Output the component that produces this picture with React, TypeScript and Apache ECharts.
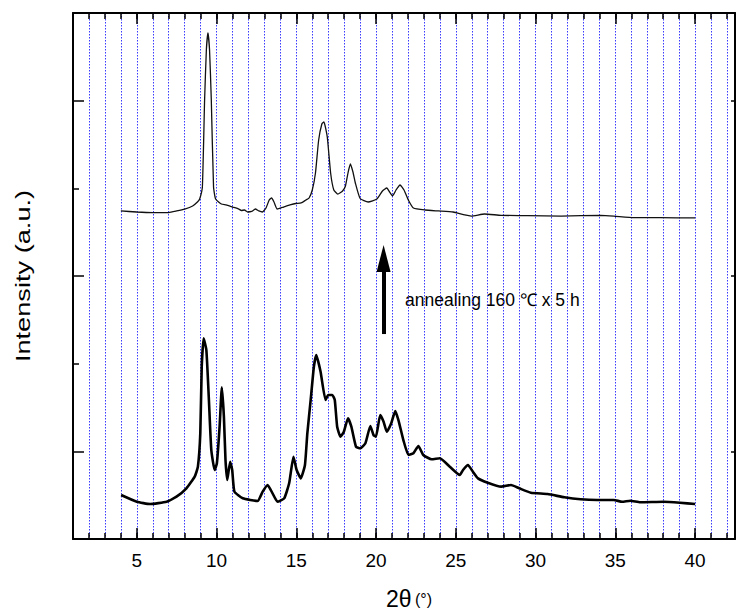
import React, { useEffect, useRef } from "react";
import * as echarts from "echarts";

// 2θ positions (degrees) and intensities (a.u.) of the as-prepared sample (lower curve)
const lowerX = [4.02, 5.0, 5.83, 6.87, 7.49, 8.11, 8.63, 8.83, 8.98, 9.07, 9.19, 9.36, 9.52, 9.67, 9.88, 10.02, 10.19, 10.33, 10.46, 10.56, 10.67, 10.85, 10.98, 11.12, 11.64, 12.57, 12.89, 13.2, 13.51, 13.82, 14.24, 14.55, 14.82, 15.02, 15.28, 15.54, 15.69, 15.9, 16.1, 16.25, 16.52, 16.83, 17.0, 17.25, 17.41, 17.56, 17.77, 17.98, 18.24, 18.45, 18.74, 19.01, 19.33, 19.64, 19.84, 19.99, 20.26, 20.47, 20.67, 20.95, 21.2, 21.4, 21.71, 22.03, 22.34, 22.65, 22.96, 23.48, 24.0, 24.62, 25.25, 25.45, 25.76, 26.07, 26.39, 27.0, 27.84, 28.46, 28.98, 29.7, 30.75, 31.8, 32.82, 33.86, 34.9, 35.42, 35.94, 36.56, 38.02, 39.05, 40.0];
const lowerY = [502, 425, 399, 425, 483, 578, 711, 825, 1206, 1965, 2289, 2156, 1586, 1015, 787, 864, 1281, 1730, 1395, 901, 673, 882, 787, 540, 464, 433, 540, 616, 521, 425, 464, 635, 939, 787, 692, 844, 1206, 1586, 1965, 2099, 1908, 1586, 1643, 1643, 1586, 1281, 1167, 1224, 1377, 1281, 1053, 1035, 1092, 1289, 1186, 1167, 1414, 1338, 1224, 1320, 1460, 1357, 1129, 958, 978, 1061, 958, 909, 921, 825, 730, 787, 844, 768, 692, 642, 597, 616, 578, 528, 513, 476, 453, 445, 445, 425, 437, 419, 425, 414, 399];

// annealed sample (upper curve)
const upperX = [4.0, 5.0, 6.0, 7.0, 7.5, 8.0, 8.5, 8.8, 8.94, 9.11, 9.25, 9.36, 9.46, 9.56, 9.67, 9.81, 9.94, 10.3, 10.6, 11.0, 11.4, 11.55, 11.75, 11.95, 12.2, 12.43, 12.65, 12.87, 13.1, 13.3, 13.45, 13.6, 13.8, 14.2, 14.6, 14.96, 15.3, 15.6, 15.8, 16.0, 16.2, 16.4, 16.6, 16.73, 16.94, 17.15, 17.35, 17.6, 17.9, 18.08, 18.25, 18.39, 18.55, 18.7, 19.0, 19.5, 20.05, 20.4, 20.67, 20.85, 21.03, 21.25, 21.5, 21.75, 22.02, 22.34, 23.06, 23.9, 24.83, 25.56, 25.97, 26.8, 27.84, 29.5, 31.6, 34.07, 34.9, 36.15, 37.8, 40.0];
const upperY = [3742, 3730, 3724, 3724, 3742, 3764, 3799, 3844, 3878, 4015, 5008, 5578, 5772, 5578, 5008, 4015, 3878, 3821, 3810, 3787, 3764, 3747, 3753, 3730, 3736, 3764, 3742, 3730, 3776, 3867, 3890, 3844, 3764, 3787, 3810, 3827, 3833, 3867, 3890, 3981, 4175, 4551, 4734, 4757, 4586, 4175, 3981, 3935, 3970, 4027, 4186, 4278, 4186, 4061, 3884, 3844, 3878, 3970, 4004, 3958, 3913, 3981, 4038, 3981, 3867, 3776, 3753, 3742, 3730, 3696, 3684, 3707, 3692, 3688, 3684, 3692, 3684, 3665, 3665, 3662];

const xMajorTicks = [5, 10, 15, 20, 25, 30, 35, 40];
const yMajorTicks = [1000, 3000, 5000];
const yMinorTicks = [2000, 4000];

// annotation arrow (2θ, intensity)
const arrowX = 20.47;
const arrowFrom = 2338;
const arrowTo = 3200;
const annotationText = "annealing 160 ℃ x 5 h";

const FONT = '"Liberation Sans", Arial, Helvetica, sans-serif';

export default function App() {
  const ref = useRef<HTMLDivElement>(null);

  useEffect(() => {
    document.body.style.margin = "0";
    const chart = echarts.init(ref.current!, null, { renderer: "svg" });
    const xRange = { min: 1, max: 42.5 };
    const yRange = { min: 0, max: 6000 };
    const black = { color: "#000", width: 1.5 };

    chart.setOption({
      animation: false,
      backgroundColor: "#fff",
      grid: { left: 73, top: 13, width: 666, bottom: 72, containLabel: false },
      xAxis: [
        {
          type: "value", position: "bottom", ...xRange, interval: 1,
          axisLine: { show: true, onZero: false, lineStyle: { color: "#000", width: 2 } },
          axisTick: { show: true, inside: true, length: 6, interval: 0, lineStyle: black },
          axisLabel: {
            show: true, interval: 0, margin: 12, fontSize: 19, color: "#000", fontFamily: FONT,
            formatter: (v: number) => (xMajorTicks.includes(v) ? String(v) : ""),
          },
          splitLine: { show: true, interval: 0, lineStyle: { color: "#3a3aff", width: 1, type: [1.5, 1.5] } },
        },
        {
          type: "value", position: "bottom", ...xRange,
          axisLine: { show: false, onZero: false },
          axisTick: { show: true, inside: true, length: 11, customValues: xMajorTicks, lineStyle: black },
          axisLabel: { show: false },
          splitLine: { show: false },
        },
        {
          type: "value", position: "top", ...xRange, interval: 1,
          axisLine: { show: true, onZero: false, lineStyle: { color: "#000", width: 2 } },
          axisTick: { show: true, inside: true, length: 6, interval: 0, lineStyle: black },
          axisLabel: { show: false },
          splitLine: { show: false },
        },
        {
          type: "value", position: "top", ...xRange,
          axisLine: { show: false, onZero: false },
          axisTick: { show: true, inside: true, length: 11, customValues: xMajorTicks, lineStyle: black },
          axisLabel: { show: false },
          splitLine: { show: false },
        },
      ],
      yAxis: [
        {
          type: "value", position: "left", ...yRange,
          axisLine: { show: true, onZero: false, lineStyle: { color: "#000", width: 2 } },
          axisTick: { show: true, inside: true, length: 11, customValues: yMajorTicks, lineStyle: black },
          axisLabel: { show: false },
          splitLine: { show: false },
        },
        {
          type: "value", position: "left", ...yRange,
          axisLine: { show: false, onZero: false },
          axisTick: { show: true, inside: true, length: 6, customValues: yMinorTicks, lineStyle: black },
          axisLabel: { show: false },
          splitLine: { show: false },
        },
        {
          type: "value", position: "right", ...yRange,
          axisLine: { show: true, onZero: false, lineStyle: { color: "#000", width: 2 } },
          axisTick: { show: true, inside: true, length: 4, customValues: yMajorTicks, lineStyle: black },
          axisLabel: { show: false },
          splitLine: { show: false },
        },
      ],
      series: [
        {
          name: "as-prepared", type: "line", xAxisIndex: 0, yAxisIndex: 0,
          data: lowerX.map((x, i) => [x, lowerY[i]]),
          showSymbol: false, symbol: "none", smooth: 0.15,
          lineStyle: { color: "#000", width: 2.6 },
          z: 3,
          markLine: {
            silent: true,
            symbol: ["none", "triangle"],
            label: { show: false },
            lineStyle: { color: "#000", width: 4, type: "solid" },
            emphasis: { disabled: true },
            data: [[
              { coord: [arrowX, arrowFrom], symbol: "none" },
              { coord: [arrowX, arrowTo], symbol: "triangle", symbolSize: [14, 27] },
            ]],
          },
        },
        {
          name: "annealed", type: "line", xAxisIndex: 0, yAxisIndex: 0,
          data: upperX.map((x, i) => [x, upperY[i]]),
          showSymbol: false, symbol: "none", smooth: 0.15,
          lineStyle: { color: "#111", width: 1.3 },
          z: 3,
        },
      ],
      graphic: [
        {
          type: "text", x: 23, y: 276, rotation: Math.PI / 2, scaleX: 1.36,
          style: { text: "Intensity (a.u.)", fontSize: 20, fontFamily: FONT, fill: "#000", align: "center", verticalAlign: "middle" },
        },
        {
          type: "text", x: 409, y: 599,
          style: {
            text: "{a|2θ} {b|(°)}", fill: "#000", align: "center", verticalAlign: "middle",
            rich: {
              a: { fontSize: 23, lineHeight: 22, fontFamily: FONT, fill: "#000" },
              b: { fontSize: 16, lineHeight: 22, fontFamily: FONT, fill: "#000" },
            },
          },
        },
        {
          type: "text", x: 405, y: 300,
          style: { text: annotationText, fontSize: 17.5, fontFamily: FONT, fill: "#000", align: "left", verticalAlign: "middle" },
        },
      ],
    });
    return () => chart.dispose();
  }, []);

  return <div ref={ref} style={{ position: "fixed", left: 0, top: 0, width: 738, height: 611 }} />;
}
